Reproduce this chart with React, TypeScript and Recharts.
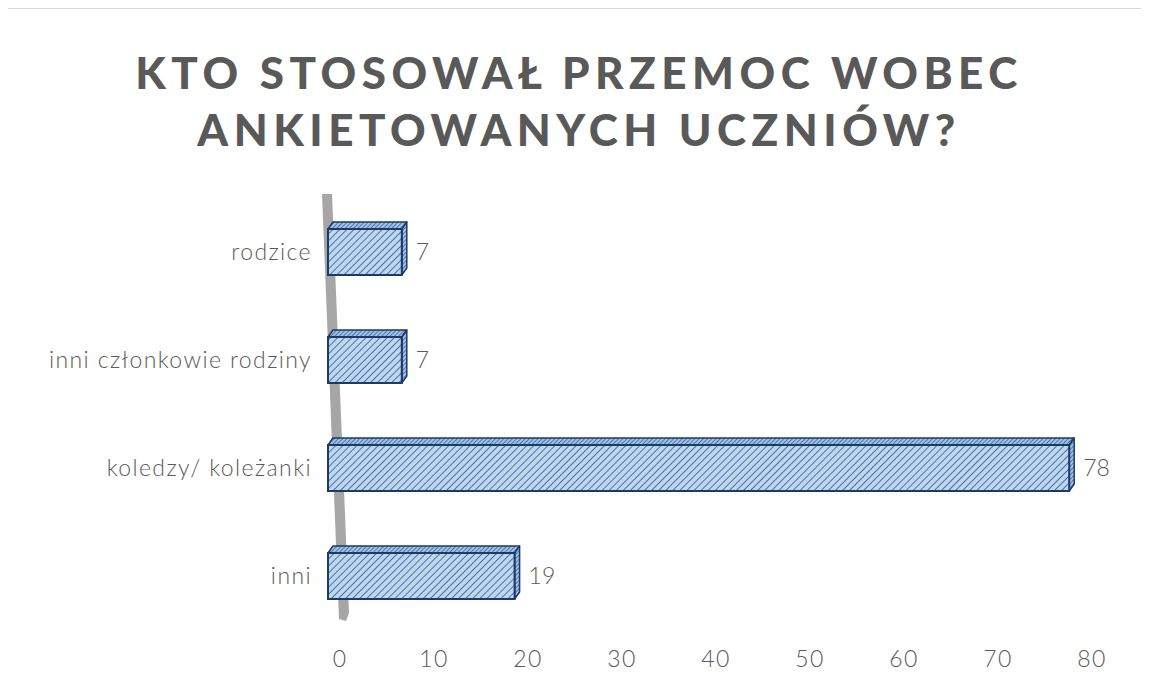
import { Bar, BarChart, LabelList, XAxis, YAxis } from 'recharts';

const categories = ['rodzice', 'inni członkowie rodziny', 'koledzy/ koleżanki', 'inni'];
const values = [7, 7, 78, 19];
const xTicks = [0, 10, 20, 30, 40, 50, 60, 70, 80];
const titleLines = ['KTO STOSOWAŁ PRZEMOC WOBEC', 'ANKIETOWANYCH UCZNIÓW?'];

const data = categories.map((name, i) => ({ name, value: values[i] }));

const TEXT = '#595959';
const FONT = 'Lato, "Open Sans", sans-serif';
const DX = 5;
const DY = 7;

function Bar3D(props: any) {
  const { x, y, width, height } = props;
  if (width == null || width <= 0) return null;
  const x0 = x - 12;
  const w = width + 8;
  return (
    <g>
      <polygon
        points={`${x0},${y} ${x0 + DX},${y - DY} ${x0 + w + DX},${y - DY} ${x0 + w},${y}`}
        fill="url(#hatchDark)"
        stroke="#1f3864"
        strokeWidth={1.5}
        strokeLinejoin="round"
      />
      <polygon
        points={`${x0 + w},${y} ${x0 + w + DX},${y - DY} ${x0 + w + DX},${y + height - DY} ${x0 + w},${y + height}`}
        fill="url(#hatchDark)"
        stroke="#1f3864"
        strokeWidth={1.5}
        strokeLinejoin="round"
      />
      <rect x={x0} y={y} width={w} height={height} fill="url(#hatch)" stroke="#1f3864" strokeWidth={2} />
    </g>
  );
}

const tickStyle = { fill: TEXT, fontSize: 23, fontFamily: FONT, fontWeight: 300, letterSpacing: 1.4 };

export default function App() {
  return (
    <div
      style={{
        position: 'relative',
        width: 1142,
        height: 690,
        border: '1px solid #d9d9d9',
        marginLeft: -1,
        background: '#fff',
        fontFamily: FONT,
        overflow: 'hidden',
      }}
    >
      <div
        style={{
          position: 'absolute',
          top: 35,
          left: 0,
          width: '100%',
          textAlign: 'center',
          color: TEXT,
          fontWeight: 900,
          fontSize: 44,
          letterSpacing: 5.5,
          lineHeight: '57px',
          fontFamily: FONT,
        }}
      >
        {titleLines.map((t) => (
          <div key={t}>{t}</div>
        ))}
      </div>
      <svg style={{ position: 'absolute', left: 0, top: 0 }} width={1142} height={690}>
        <polygon points="314,185 324,185 341,604 338,612 331,610" fill="#a6a6a6" />
      </svg>
      <div style={{ position: 'absolute', left: 0, top: 0 }}>
        <BarChart
          width={1140}
          height={680}
          data={data}
          layout="vertical"
          margin={{ top: 189, right: 56, bottom: 19, left: 0 }}
          barSize={46}
        >
          <defs>
            <pattern id="hatch" width={5} height={5} patternUnits="userSpaceOnUse" patternTransform="rotate(45)">
              <rect width={5} height={5} fill="#bdd7ee" />
              <line x1={0} y1={0} x2={0} y2={5} stroke="#2f5597" strokeWidth={1.6} />
            </pattern>
            <pattern id="hatchDark" width={3} height={3} patternUnits="userSpaceOnUse" patternTransform="rotate(45)">
              <rect width={3} height={3} fill="#9dc3e6" />
              <line x1={0} y1={0} x2={0} y2={3} stroke="#2f5597" strokeWidth={1.4} />
            </pattern>
          </defs>
          <XAxis
            type="number"
            domain={[0, 80]}
            ticks={xTicks}
            axisLine={false}
            tickLine={false}
            tickMargin={15}
            height={40}
            tick={tickStyle}
          />
          <YAxis
            type="category"
            dataKey="name"
            width={332}
            axisLine={false}
            tickLine={false}
            tickMargin={22}
            tick={tickStyle}
          />
          <Bar dataKey="value" shape={Bar3D} isAnimationActive={false}>
            <LabelList
              dataKey="value"
              position="right"
              offset={10}
              fill={TEXT}
              fontSize={23}
              fontFamily={FONT}
              fontWeight={300}
            />
          </Bar>
        </BarChart>
      </div>
    </div>
  );
}
